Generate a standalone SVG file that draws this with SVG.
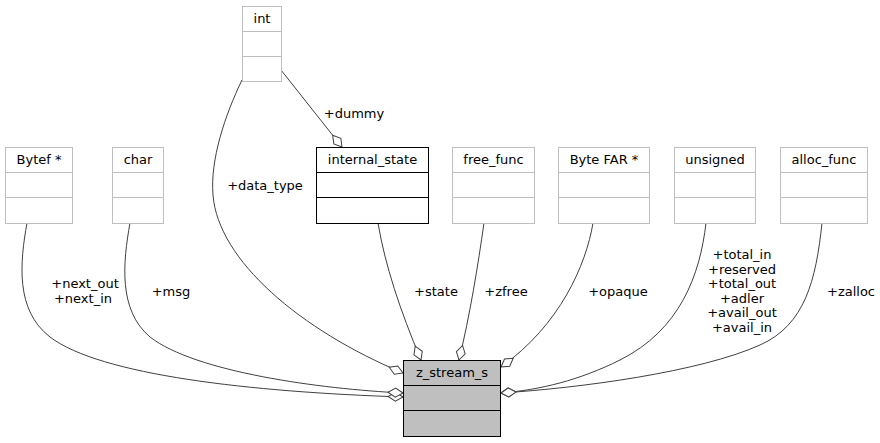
<svg xmlns="http://www.w3.org/2000/svg" width="880" height="443" viewBox="0 0 880 443">
<style>
text{font-family:"DejaVu Sans","Liberation Sans",sans-serif;font-size:13px;fill:#000}
.c{text-anchor:middle}
.g{fill:#fff;stroke:#bfbfbf;stroke-width:1}
.b{fill:#fff;stroke:#000;stroke-width:1}
.m{fill:#bfbfbf;stroke:#000;stroke-width:1}
.e{fill:none;stroke:#404040;stroke-width:1;marker-end:url(#od)}
</style>
<defs>
<marker id="od" markerUnits="userSpaceOnUse" markerWidth="20" markerHeight="12" viewBox="-16 -6 17 12" refX="0" refY="0" orient="auto">
<polygon points="0,0 -7.5,-4.5 -15,0 -7.5,4.5" fill="#fff" stroke="#404040" stroke-width="1"/>
</marker>
</defs>
<rect width="880" height="443" fill="#fff"/>
<g id="edges">
<path class="e" d="M27,223 C20,262 15,310 50,337 C100,375 250,392 403,397"/>
<path class="e" d="M130,223 C123,262 118,310 150,337 C195,372 320,389 403,393"/>
<path class="e" d="M242,80 C225,115 210,160 213,195 C218,260 300,330 403,373"/>
<path class="e" d="M281,70 L342,147"/>
<path class="e" d="M378,223 C385,265 400,310 421,360"/>
<path class="e" d="M484,223 C478,265 470,315 459,360"/>
<path class="e" d="M593,223 C586,265 560,325 501,367"/>
<path class="e" d="M706,223 C700,275 680,330 620,360 C580,380 540,390 501,393"/>
<path class="e" d="M822,223 C816,280 805,325 760,345 C700,372 580,388 501,393"/>
</g>
<g id="labels">
<text class="c" x="85" y="288">+next_out</text>
<text class="c" x="83" y="303">+next_in</text>
<text class="c" x="171" y="296">+msg</text>
<text class="c" x="265" y="190">+data_type</text>
<text class="c" x="354" y="118">+dummy</text>
<text class="c" x="436" y="296">+state</text>
<text class="c" x="506" y="296">+zfree</text>
<text class="c" x="618" y="296">+opaque</text>
<text class="c" x="742" y="259">+total_in</text>
<text class="c" x="742" y="273.5">+reserved</text>
<text class="c" x="742" y="288">+total_out</text>
<text class="c" x="742" y="302.5">+adler</text>
<text class="c" x="742" y="317">+avail_out</text>
<text class="c" x="742" y="331.5">+avail_in</text>
<text class="c" x="851" y="296">+zalloc</text>
</g>
<g id="node-bytef">
<rect class="g" x="5.5" y="147.5" width="67" height="76"/>
<path d="M5.5,172.5H72.5M5.5,197.5H72.5" stroke="#bfbfbf"/>
<text class="c" x="39" y="164">Bytef *</text>
</g>
<g id="node-char">
<rect class="g" x="112.5" y="147.5" width="51" height="76"/>
<path d="M112.5,172.5H163.5M112.5,197.5H163.5" stroke="#bfbfbf"/>
<text class="c" x="138" y="164">char</text>
</g>
<g id="node-int">
<rect class="g" x="242.5" y="6.5" width="39" height="75"/>
<path d="M242.5,31.5H281.5M242.5,56.5H281.5" stroke="#bfbfbf"/>
<text class="c" x="262" y="23">int</text>
</g>
<g id="node-internal_state">
<rect class="b" x="316.5" y="147.5" width="112" height="76"/>
<path d="M316.5,172.5H428.5M316.5,197.5H428.5" stroke="#000"/>
<text class="c" x="372.5" y="164">internal_state</text>
</g>
<g id="node-free_func">
<rect class="g" x="452.5" y="147.5" width="82" height="76"/>
<path d="M452.5,172.5H534.5M452.5,197.5H534.5" stroke="#bfbfbf"/>
<text class="c" x="493.5" y="164">free_func</text>
</g>
<g id="node-bytefar">
<rect class="g" x="558.5" y="147.5" width="91" height="76"/>
<path d="M558.5,172.5H649.5M558.5,197.5H649.5" stroke="#bfbfbf"/>
<text class="c" x="604" y="164">Byte FAR *</text>
</g>
<g id="node-unsigned">
<rect class="g" x="674.5" y="147.5" width="81" height="76"/>
<path d="M674.5,172.5H755.5M674.5,197.5H755.5" stroke="#bfbfbf"/>
<text class="c" x="715" y="164">unsigned</text>
</g>
<g id="node-alloc_func">
<rect class="g" x="780.5" y="147.5" width="87" height="76"/>
<path d="M780.5,172.5H867.5M780.5,197.5H867.5" stroke="#bfbfbf"/>
<text class="c" x="824" y="164">alloc_func</text>
</g>
<g id="node-z_stream_s">
<rect class="m" x="403.5" y="360.5" width="97" height="76"/>
<path d="M403.5,385.5H500.5M403.5,410.5H500.5" stroke="#000"/>
<text class="c" x="452" y="377">z_stream_s</text>
</g>
</svg>
